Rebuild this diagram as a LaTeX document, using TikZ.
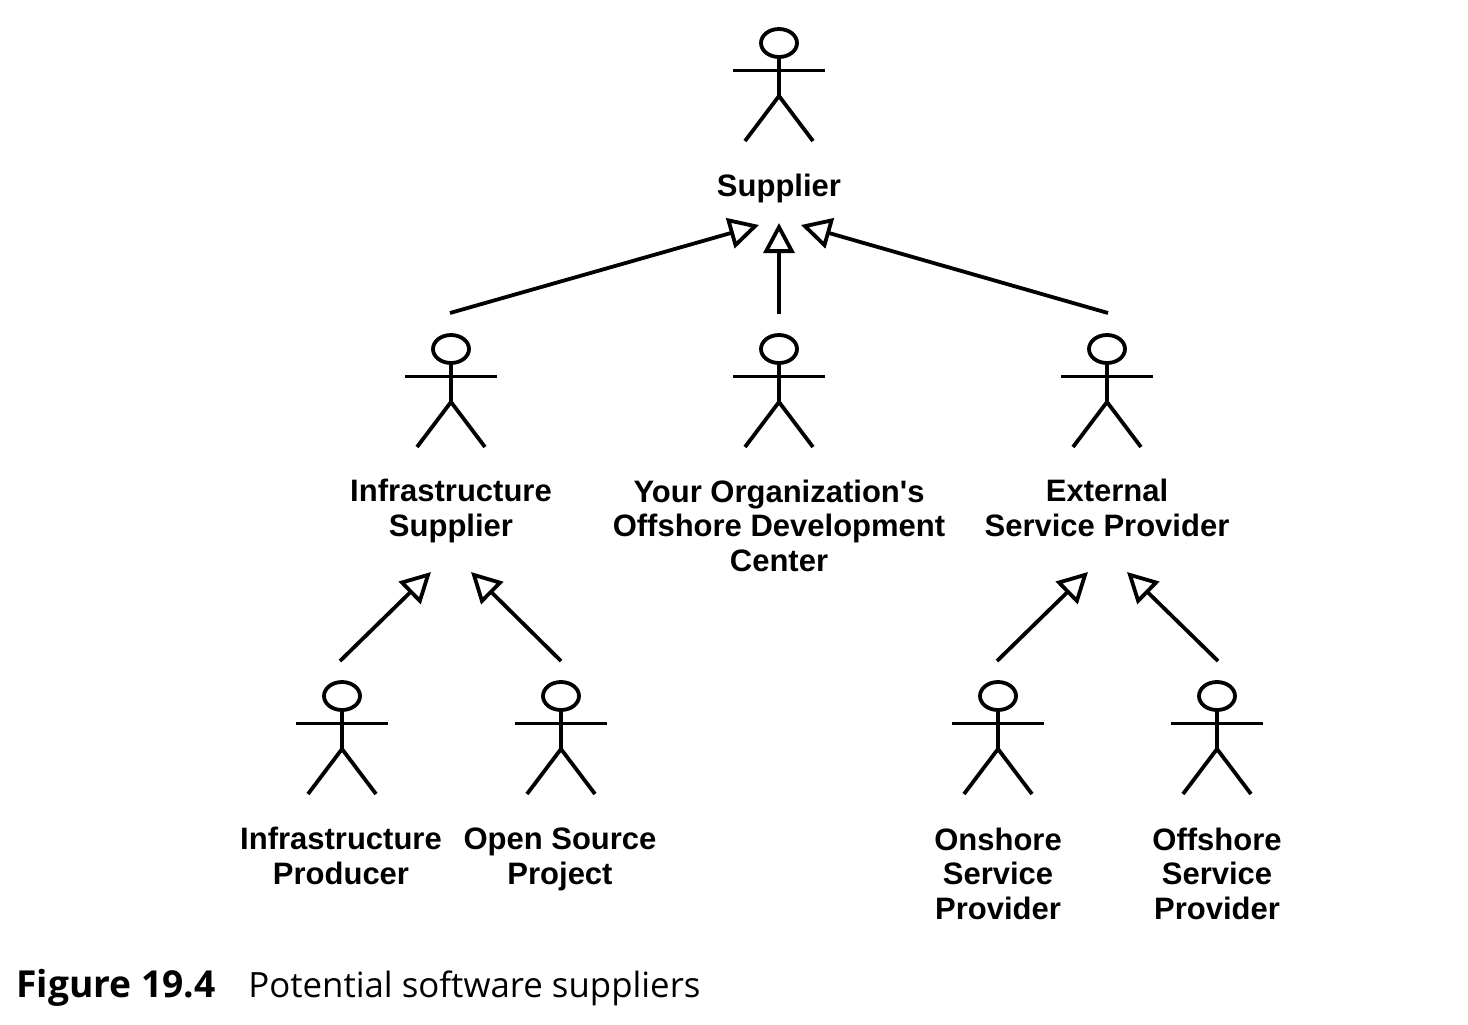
\documentclass[tikz,border=0pt]{standalone}
\usepackage{fontspec}
\setmainfont{Liberation Sans}
\newfontfamily\capfont{Open Sans}
\usetikzlibrary{arrows.meta}

\tikzset{
  actor/.pic={
    \draw[actorline] (0,0) ellipse (18 and 14);
    \draw[actorline] (-46,27.5) -- (46,27.5);
    \draw[actorline] (0,14) -- (0,53) -- (-34,98);
    \draw[actorline] (0,53) -- (34,98);
  },
  actorline/.style={line width=1.9pt, line cap=butt, line join=miter},
  label/.style={font=\bfseries\fontsize{15.5}{17.25}\selectfont, align=center, anchor=base, inner sep=0pt},
  general/.style={line width=1.9pt, -{Triangle[open, length=15pt, width=15.5pt]}}
}

\begin{document}
\begin{tikzpicture}[x=0.5pt, y=-0.5pt]
  \useasboundingbox (0,0) rectangle (1468,1024);

  % actors
  \pic at (779,43) {actor};
  \pic at (451,349) {actor};
  \pic at (779,349) {actor};
  \pic at (1107,349) {actor};
  \pic at (342,696) {actor};
  \pic at (561,696) {actor};
  \pic at (998,696) {actor};
  \pic at (1217,696) {actor};

  % names
  \node[label] (supplier) at (779,196) {Supplier};
  \node[label] (infra) at (451,536) {Infrastructure\\Supplier};
  \node[label] (center) at (779,571) {Your Organization\textquotesingle s\\Offshore Development\\Center};
  \node[label] (external) at (1107,536) {External\\Service Provider};
  \node[label] (producer) at (341,884) {Infrastructure\\Producer};
  \node[label] (opensource) at (560,884) {Open Source\\Project};
  \node[label] (onshore) at (998,919) {Onshore\\Service\\Provider};
  \node[label] (offshore) at (1217,919) {Offshore\\Service\\Provider};

  % arrow ends
  \coordinate (S1) at (759,225);
  \coordinate (S2) at (779,223);
  \coordinate (S3) at (801,225);
  \coordinate (I1) at (431,572);
  \coordinate (I2) at (471,572);
  \coordinate (E1) at (1088,572);
  \coordinate (E2) at (1127,572);
  \coordinate (infraT) at (450,313);
  \coordinate (centerT) at (779,314);
  \coordinate (externalT) at (1108,313);
  \coordinate (producerT) at (340,661);
  \coordinate (opensourceT) at (561,661);
  \coordinate (onshoreT) at (997,661);
  \coordinate (offshoreT) at (1218,661);

  \draw[general] (infraT) -- (S1);
  \draw[general] (centerT) -- (S2);
  \draw[general] (externalT) -- (S3);
  \draw[general] (producerT) -- (I1);
  \draw[general] (opensourceT) -- (I2);
  \draw[general] (onshoreT) -- (E1);
  \draw[general] (offshoreT) -- (E2);

  % caption
  \node[anchor=base west, inner sep=0pt, font=\capfont\bfseries\fontsize{18.6}{20}\selectfont] (figno) at (16,997) {Figure 19.4};
  \node[anchor=base west, inner sep=0pt, font=\capfont\fontsize{17.4}{20}\selectfont] (caption) at (248,997) {Potential software suppliers};
\end{tikzpicture}
\end{document}
